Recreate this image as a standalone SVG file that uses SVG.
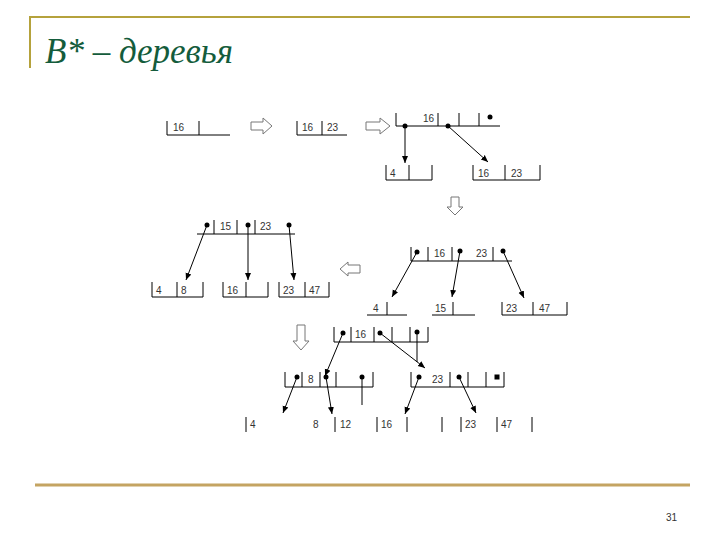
<svg xmlns="http://www.w3.org/2000/svg" width="720" height="540" viewBox="0 0 720 540">
<style>
.t{font-family:"Liberation Sans",Arial,sans-serif;font-size:10px;fill:#333}
.ln{stroke:#000;stroke-width:1;fill:none}
.ar{stroke:#000;stroke-width:1;fill:none;marker-end:url(#ah)}
.blk{fill:#fff;stroke:#777;stroke-width:1}
.dot{fill:#000}
</style>
<defs>
<marker id="ah" markerWidth="8" markerHeight="8" refX="7" refY="4" orient="auto" markerUnits="userSpaceOnUse">
<path d="M0,1 L7,4 L0,7 Z" fill="#000"/>
</marker>
</defs>
<rect width="720" height="540" fill="#fff"/>
<g id="frame">
<path d="M30,68 V17 H690" stroke="#b5a23c" stroke-width="2" fill="none"/>
<line x1="35" y1="485" x2="690" y2="485" stroke="#c4a462" stroke-width="3"/>
<text x="45" y="63" font-family="Liberation Serif,serif" font-style="italic" font-size="35" fill="#145c3c">B* – деревья</text>
<text x="666" y="521" font-family="Liberation Sans,sans-serif" font-size="10" fill="#333">31</text>
</g>
<g id="step1">
<path class="ln" d="M167,121 V135 H230 M199,121 V135"/>
<text class="t" x="173" y="131">16</text>
</g>
<g id="step2">
<path class="ln" d="M297,121 V135 H347 M322,121 V135"/>
<text class="t" x="302" y="131">16</text><text class="t" x="327" y="131">23</text>
</g>
<g id="arrows-block">
<path class="blk" d="M251,122 H263 V118 L272,126 L263,134 V130 H251 Z"/>
<path class="blk" d="M366,122 H380 V118 L390,126 L380,134 V130 H366 Z"/>
<path class="blk" d="M451,197 H459 V207 H463 L455,215 L447,207 H451 Z"/>
<path class="blk" d="M360,265 H348 V262 L340,269 L348,276 V273 H360 Z"/>
<path class="blk" d="M297,325 H305 V341 H309 L301,350 L293,341 H297 Z"/>
</g>
<g id="s3-root">
<path class="ln" d="M396,113 V126 H500 M438,113 V126 M459,113 V126 M479,113 V126"/>
<text class="t" x="423" y="122">16</text>
<circle class="dot" cx="405" cy="126" r="2.5"/><circle class="dot" cx="448" cy="126" r="2.5"/><circle class="dot" cx="490" cy="117" r="2.5"/>
</g>
<g id="s3-left">
<path class="ln" d="M386,165 V180 H432 V165 M409,165 V180"/>
<text class="t" x="390" y="177">4</text>
</g>
<g id="s3-right">
<path class="ln" d="M473,165 V180 H540 V165 M505,165 V180"/>
<text class="t" x="478" y="177">16</text><text class="t" x="511" y="177">23</text>
</g>
<g id="s4-root">
<path class="ln" d="M411,247 V261 H512 M428,247 V261 M452,247 V261 M493,247 V261"/>
<text class="t" x="434" y="257">16</text><text class="t" x="476" y="257">23</text>
<circle class="dot" cx="417" cy="252" r="2.5"/><circle class="dot" cx="460" cy="251" r="2.5"/><circle class="dot" cx="503" cy="251" r="2.5"/>
</g>
<g id="s4-a"><path class="ln" d="M367,315 H407 M387,302 V315"/><text class="t" x="373" y="312">4</text></g>
<g id="s4-b"><path class="ln" d="M432,315 H475 M453,302 V315"/><text class="t" x="435" y="312">15</text></g>
<g id="s4-c"><path class="ln" d="M502,302 V315 H567 V302 M533,302 V315"/><text class="t" x="506" y="312">23</text><text class="t" x="539" y="312">47</text></g>
<g id="s5-root">
<path class="ln" d="M197,234 H295 M214,220 V234 M237,220 V234 M255,220 V234"/>
<text class="t" x="220" y="230">15</text><text class="t" x="260" y="230">23</text>
<circle class="dot" cx="207" cy="225" r="2.5"/><circle class="dot" cx="248" cy="225" r="2.5"/><circle class="dot" cx="289" cy="225" r="2.5"/>
</g>
<g id="s5-a"><path class="ln" d="M152,282 V297 H203 V282 M177,282 V297"/><text class="t" x="156" y="294">4</text><text class="t" x="181" y="294">8</text></g>
<g id="s5-b"><path class="ln" d="M223,282 V297 H268 V282 M246,282 V297"/><text class="t" x="227" y="294">16</text></g>
<g id="s5-c"><path class="ln" d="M279,282 V297 H329 V282 M305,282 V297"/><text class="t" x="283" y="294">23</text><text class="t" x="309" y="294">47</text></g>
<g id="s6-root">
<path class="ln" d="M334,327 V342 H428 V327 M351,327 V342 M374,327 V342 M392,327 V342 M410,327 V342"/>
<text class="t" x="355" y="338">16</text>
<circle class="dot" cx="343" cy="333" r="2.5"/><circle class="dot" cx="380" cy="333" r="2.5"/><circle class="dot" cx="417" cy="332" r="2.5"/>
</g>
<g id="s6-left">
<path class="ln" d="M285,372 V387 H373 V372 M302,372 V387 M320,372 V387 M336,372 V387"/>
<text class="t" x="308" y="383">8</text>
<circle class="dot" cx="297" cy="377" r="2.5"/><circle class="dot" cx="326" cy="377" r="2.5"/><circle class="dot" cx="362" cy="377" r="2.5"/>
</g>
<g id="s6-right">
<path class="ln" d="M411,372 V387 H504 V372 M450,372 V387 M468,372 V387 M486,372 V387"/>
<text class="t" x="432" y="383">23</text>
<circle class="dot" cx="419" cy="377" r="2.5"/><circle class="dot" cx="459" cy="377" r="2.5"/><rect class="dot" x="494.5" y="374.5" width="5" height="5"/>
</g>
<g id="s6-leaves">
<path class="ln" d="M246,417 V432 M335,417 V432 M377,417 V432 M407,417 V432 M442,417 V432 M461,417 V432 M497,417 V432 M532,417 V432"/>
<text class="t" x="250" y="428">4</text><text class="t" x="313" y="428">8</text><text class="t" x="340" y="428">12</text><text class="t" x="381" y="428">16</text><text class="t" x="465" y="428">23</text><text class="t" x="501" y="428">47</text>
</g>
<g id="connectors">
<line class="ar" x1="405" y1="126" x2="405" y2="163"/>
<line class="ar" x1="448" y1="126" x2="488" y2="162"/>
<line class="ar" x1="417" y1="252" x2="392" y2="297"/>
<line class="ar" x1="460" y1="251" x2="452" y2="297"/>
<line class="ar" x1="503" y1="251" x2="524" y2="298"/>
<line class="ar" x1="207" y1="225" x2="186" y2="280"/>
<line class="ar" x1="248" y1="225" x2="248" y2="280"/>
<line class="ar" x1="289" y1="225" x2="294" y2="280"/>
<line class="ar" x1="343" y1="333" x2="325" y2="376"/>
<line class="ar" x1="380" y1="333" x2="425" y2="368"/>
<line class="ln" x1="417" y1="332" x2="417" y2="362"/>
<line class="ar" x1="297" y1="377" x2="283" y2="413"/>
<line class="ar" x1="326" y1="377" x2="332" y2="414"/>
<line class="ln" x1="362" y1="377" x2="362" y2="405"/>
<line class="ar" x1="419" y1="377" x2="405" y2="414"/>
<line class="ar" x1="459" y1="377" x2="476" y2="413"/>
</g>
</svg>
